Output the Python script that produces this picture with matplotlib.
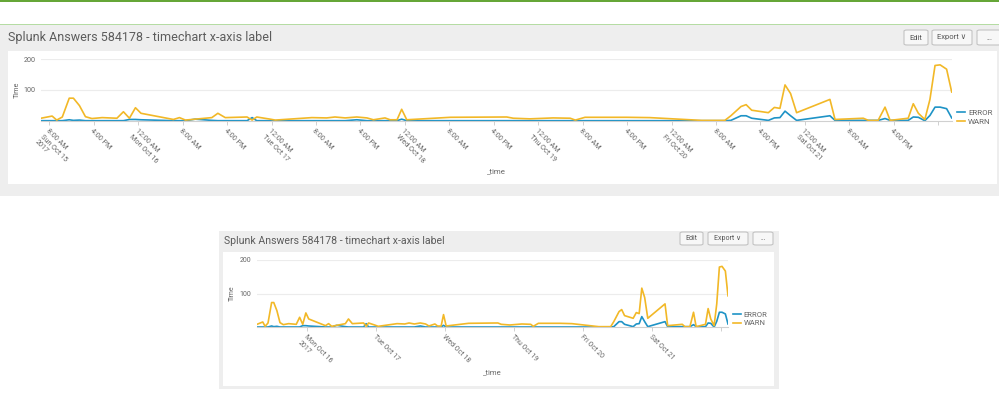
import pandas as pd
import matplotlib.pyplot as plt
from matplotlib.patches import Rectangle, FancyBboxPatch

# datos (hora, WARN, ERROR)
times = [
    "2017-10-15 06:30", "2017-10-15 08:30", "2017-10-15 09:20", "2017-10-15 10:20",
    "2017-10-15 11:35", "2017-10-15 12:20", "2017-10-15 13:25", "2017-10-15 14:30",
    "2017-10-15 15:40", "2017-10-15 17:30", "2017-10-15 20:10", "2017-10-15 21:20",
    "2017-10-15 22:25", "2017-10-15 23:30", "2017-10-16 00:30", "2017-10-16 06:20",
    "2017-10-16 07:25", "2017-10-16 08:30", "2017-10-16 10:15", "2017-10-16 13:15",
    "2017-10-16 14:20", "2017-10-16 15:40", "2017-10-16 19:35", "2017-10-16 20:30",
    "2017-10-16 21:20", "2017-10-16 23:45", "2017-10-17 00:40", "2017-10-17 07:15",
    "2017-10-17 09:55", "2017-10-17 11:25", "2017-10-17 13:15", "2017-10-17 15:20",
    "2017-10-17 17:10", "2017-10-17 18:20", "2017-10-17 20:25", "2017-10-17 21:20",
    "2017-10-17 22:35", "2017-10-17 23:25", "2017-10-18 00:20", "2017-10-18 08:10",
    "2017-10-18 18:20", "2017-10-18 19:30", "2017-10-18 22:30", "2017-10-19 02:40",
    "2017-10-19 05:45", "2017-10-19 06:40", "2017-10-19 08:25", "2017-10-19 15:55",
    "2017-10-19 20:05", "2017-10-20 05:25", "2017-10-20 09:35", "2017-10-20 10:40",
    "2017-10-20 12:30", "2017-10-20 13:25", "2017-10-20 14:25", "2017-10-20 17:25",
    "2017-10-20 18:30", "2017-10-20 19:30", "2017-10-20 20:25", "2017-10-20 21:25",
    "2017-10-20 22:30", "2017-10-21 04:30", "2017-10-21 05:25", "2017-10-21 10:30",
    "2017-10-21 11:25", "2017-10-21 13:10", "2017-10-21 14:25", "2017-10-21 15:20",
    "2017-10-21 18:35", "2017-10-21 19:30", "2017-10-21 20:25", "2017-10-21 21:35",
    "2017-10-21 22:30", "2017-10-21 23:25", "2017-10-22 00:20", "2017-10-22 01:30",
    "2017-10-22 02:25",
]
warn = [
    8, 15, 2, 12, 73, 73, 49, 13, 7, 10, 8, 29, 8, 42, 24, 4,
    10, 2, 5, 10, 24, 10, 12, 2, 12, 5, 2, 10, 9, 12, 9, 12,
    9, 3, 9, 3, 3, 37, 3, 11, 12, 8, 6, 9, 8, 2, 11, 11,
    10, 1, 1, 16, 46, 52, 34, 26, 43, 40, 116, 88, 26, 69, 4, 8,
    1, 1, 44, 1, 8, 55, 24, 4, 69, 179, 181, 167, 93,
]
error = [
    0, 0, 0, 0, 3, 1, 2, 0, 0, 0, 0, 0, 4, 4, 3, 0,
    0, 0, 5, 1, 0, 0, 0, 10, 0, 0, 0, 0, 0, 0, 0, 3,
    0, 0, 0, 0, 0, 5, 0, 0, 0, 0, 0, 0, 0, 0, 0, 0,
    0, 0, 0, 1, 16, 16, 8, 1, 9, 10, 31, 16, 1, 16, 1, 1,
    1, 1, 7, 1, 1, 12, 11, 0, 17, 44, 44, 39, 9,
]

t = pd.to_datetime(times)
W, H = 999, 399
fig = plt.figure(figsize=(W / 100, H / 100), dpi=100)
fig.patch.set_facecolor('white')

BLUE = '#1e93c6'
YELLOW = '#f2b827'
GRIS_TXT = '#666666'
FUENTE = ['Roboto', 'DejaVu Sans']


def px(x0, y0, x1, y1):
    return [x0 / W, 1 - y1 / H, (x1 - x0) / W, (y1 - y0) / H]


def rect(x0, y0, x1, y1, color, z=-10):
    r = px(x0, y0, x1, y1)
    fig.add_artist(Rectangle((r[0], r[1]), r[2], r[3], transform=fig.transFigure,
                             facecolor=color, edgecolor='none', zorder=z))


def boton(x0, y0, x1, y1, texto, fs):
    r = px(x0, y0, x1, y1)
    fig.add_artist(FancyBboxPatch((r[0], r[1]), r[2], r[3], boxstyle='round,pad=0,rounding_size=0.003',
                                  transform=fig.transFigure, facecolor='#f7f7f7',
                                  edgecolor='#c3c3c3', linewidth=0.8, zorder=-5))
    fig.text((x0 + x1) / 2 / W, 1 - (y0 + y1) / 2 / H, texto, ha='center', va='center',
             fontsize=fs, color='#555555', family=FUENTE)


# fondo: barras verdes y paneles
rect(0, 0, 999, 2, '#65a637')
rect(0, 24, 999, 25, '#b5dca3')
rect(0, 25, 999, 196, '#eeeeee')
rect(8, 51, 997, 184, 'white', z=-9)
rect(219, 231, 779, 389, '#eeeeee')
rect(223, 252, 774, 386, 'white', z=-9)

fig.text(8 / W, 1 - 38 / H, 'Splunk Answers 584178 - timechart x-axis label', ha='left', va='center',
         fontsize=9.0, color='#5c5c5c', family=FUENTE)
fig.text(224 / W, 1 - 241 / H, 'Splunk Answers 584178 - timechart x-axis label', ha='left', va='center',
         fontsize=7.6, color='#5c5c5c', family=FUENTE)

boton(904, 30, 928, 45, 'Edit', 5.5)
boton(932, 30, 972, 45, 'Export \u2228', 5.5)
boton(977, 30, 1001, 45, '...', 5.5)
boton(680, 232, 703, 245, 'Edit', 5)
boton(708, 232, 748, 245, 'Export \u2228', 5)
boton(753, 232, 773, 245, '...', 5)

# etiquetas de los ejes x
ticks_arriba = pd.date_range('2017-10-15 08:00', '2017-10-22 00:00', freq='8h')
etiq_arriba = []
for i, d in enumerate(ticks_arriba):
    hora = d.strftime('%I:%M %p').lstrip('0')
    if i == 0:
        etiq_arriba.append(hora + '\n' + d.strftime('%a %b %d') + '\n2017')
    elif d == ticks_arriba[-1]:
        etiq_arriba.append('')
    elif d.hour == 0:
        etiq_arriba.append(hora + '\n' + d.strftime('%a %b %d'))
    else:
        etiq_arriba.append(hora)

ticks_abajo = pd.date_range('2017-10-16', '2017-10-22', freq='D')
etiq_abajo = []
for i, d in enumerate(ticks_abajo):
    if i == 0:
        etiq_abajo.append(d.strftime('%a %b %d') + '\n2017')
    elif d == ticks_abajo[-1]:
        etiq_abajo.append('')
    else:
        etiq_abajo.append(d.strftime('%a %b %d'))


def grafico(caja, ticks, etiquetas, fs, ylab_x, xlab_y, leg_x, leg_y):
    ax = fig.add_axes(px(*caja))
    ax.set_facecolor('none')
    ax.plot(t, error, color=BLUE, linewidth=1.2, label='ERROR')
    ax.plot(t, warn, color=YELLOW, linewidth=1.2, label='WARN')
    ax.set_xlim(t[0], t[-1])
    ax.set_ylim(0, 200)
    ax.set_yticks([100, 200])
    ax.grid(axis='y', color='#ececec', linewidth=0.8)
    ax.set_axisbelow(True)
    for s in ['top', 'right', 'left']:
        ax.spines[s].set_visible(False)
    ax.spines['bottom'].set_color('#d0d0d0')
    ax.spines['bottom'].set_linewidth(0.8)
    ax.set_xticks(ticks)
    ax.set_xticklabels(etiquetas, rotation=-45, ha='left', va='top', rotation_mode='anchor',
                       fontsize=fs, color=GRIS_TXT, family=FUENTE)
    ax.tick_params(axis='x', length=3, width=0.7, color='#d0d0d0', pad=2)
    ax.tick_params(axis='y', length=0, pad=4, labelsize=fs, labelcolor=GRIS_TXT)
    for lb in ax.get_yticklabels():
        lb.set_family(FUENTE)
    ax.set_ylabel('Time', fontsize=fs, color=GRIS_TXT, family=FUENTE)
    ax.yaxis.set_label_coords(ylab_x, 0.5)
    ax.set_xlabel('_time', fontsize=fs + 0.5, color=GRIS_TXT, family=FUENTE, va='center')
    ax.xaxis.set_label_coords(0.5, xlab_y)
    ax.legend(loc='center left', bbox_to_anchor=(leg_x / W, 1 - leg_y / H), bbox_transform=fig.transFigure,
              frameon=False, handlelength=1.0, handletextpad=0.4, labelspacing=0.25,
              borderpad=0, borderaxespad=0, labelcolor=GRIS_TXT, prop={'family': FUENTE, 'size': fs + 0.5})
    return ax


grafico((41, 59, 951.7, 120.7), ticks_arriba, etiq_arriba, 5.2, -0.022, -0.815, 957, 117)
grafico((257, 260, 728, 327), ticks_abajo, etiq_abajo, 5.0, -0.045, -0.67, 733, 319)

fig.savefig('out.png', dpi=100)
